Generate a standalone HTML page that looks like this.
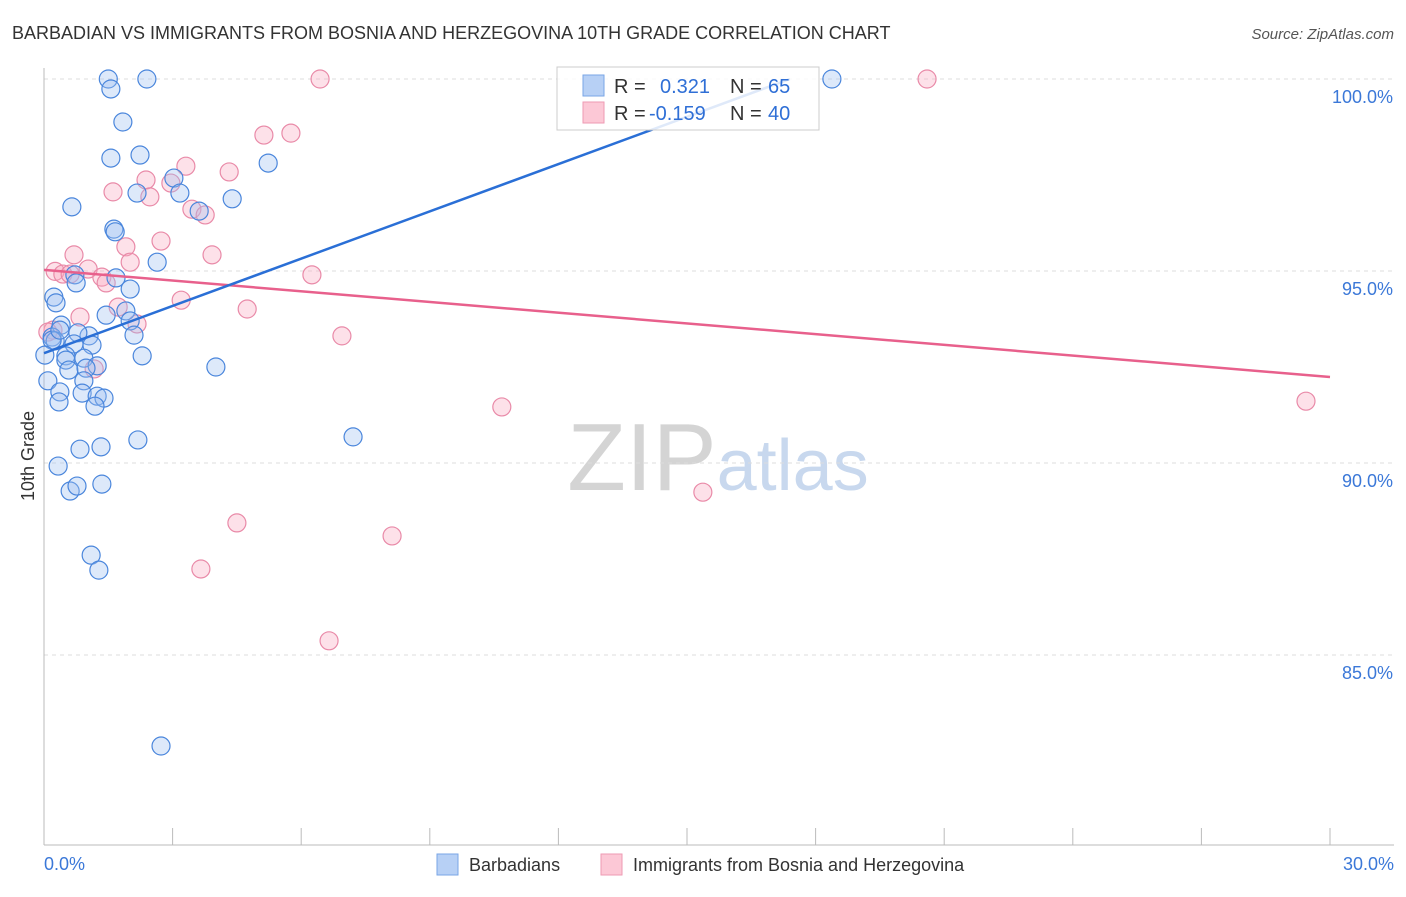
<!DOCTYPE html>
<html><head><meta charset="utf-8">
<style>
body{margin:0;background:#fff;font-family:"Liberation Sans",sans-serif;}
svg text{font-family:"Liberation Sans",sans-serif;}
</style></head>
<body>
<svg id="chart" width="1406" height="892" viewBox="0 0 1406 892">
<text x="12" y="39" font-size="18" fill="#333">BARBADIAN VS IMMIGRANTS FROM BOSNIA AND HERZEGOVINA 10TH GRADE CORRELATION CHART</text>
<text x="1394" y="39" font-size="15" fill="#555" text-anchor="end" font-style="italic">Source: ZipAtlas.com</text>
<text x="718" y="490" font-size="96" text-anchor="middle" fill="#ddd" font-family="Liberation Serif"><tspan fill="#d4d4d4">ZIP</tspan><tspan fill="#c8d8ee" font-family="Liberation Sans" font-size="72">atlas</tspan></text>
<g id="grid"></g>
<g id="axes"></g>
<g id="points"></g>
<g id="trends"></g>
<text transform="translate(34,456) rotate(-90)" font-size="18" fill="#333" text-anchor="middle">10th Grade</text>
<g>
<rect x="557" y="67" width="262" height="63" fill="#fff" fill-opacity="0.85" stroke="#ccc"/>
<rect x="583" y="75" width="21" height="21" fill="#b7d0f5" stroke="#7aa6e6"/>
<rect x="583" y="102" width="21" height="21" fill="#fcc8d6" stroke="#ee9ab3"/>
<text x="614" y="93" font-size="20" fill="#333">R =</text><text x="660" y="93" font-size="20" fill="#2f6fd6">0.321</text>
<text x="730" y="93" font-size="20" fill="#333">N =</text><text x="768" y="93" font-size="20" fill="#2f6fd6">65</text>
<text x="614" y="120" font-size="20" fill="#333">R =</text><text x="649" y="120" font-size="20" fill="#2f6fd6">-0.159</text>
<text x="730" y="120" font-size="20" fill="#333">N =</text><text x="768" y="120" font-size="20" fill="#2f6fd6">40</text>
</g>
<g>
<rect x="437" y="854" width="21" height="21" fill="#b7d0f5" stroke="#7aa6e6"/>
<text x="469" y="871" font-size="18" fill="#333">Barbadians</text>
<rect x="601" y="854" width="21" height="21" fill="#fcc8d6" stroke="#ee9ab3"/>
<text x="633" y="871" font-size="18" fill="#333">Immigrants from Bosnia and Herzegovina</text>
</g>
</svg>
<script>
const xTicks=[0,3,6,9,12,15,18,21,24,27,30];
const yTicks=[85,90,95,100];
const yTickLabels=["85.0%","90.0%","95.0%","100.0%"];
const xEndLabels=["0.0%","30.0%"];
const blueX=[1.50,2.40,1.56,18.38,1.84,1.56,2.24,5.23,3.03,2.17,3.17,4.39,0.65,3.62,1.63,1.66,2.64,0.72,0.75,1.68,2.01,0.23,0.28,1.45,1.91,2.01,0.40,2.10,0.19,1.05,0.26,0.79,0.70,1.12,2.29,0.51,0.51,0.93,1.24,0.58,0.98,4.01,0.09,0.93,0.37,0.89,1.24,1.40,0.35,1.19,7.21,2.19,0.84,1.33,0.33,0.61,0.77,1.35,1.10,1.28,2.73,0.19,0.37,0.02];
const blueY=[100,100,99.74,100,98.88,97.94,98.02,97.81,97.42,97.03,97.03,96.88,96.67,96.56,96.09,96.02,95.23,94.90,94.69,94.82,94.53,94.32,94.17,93.85,93.96,93.70,93.59,93.33,93.28,93.31,93.18,93.39,93.10,93.07,92.79,92.79,92.68,92.73,92.53,92.42,92.47,92.50,92.14,92.14,91.85,91.82,91.74,91.69,91.59,91.48,90.68,90.60,90.36,90.42,89.92,89.27,89.40,89.45,87.60,87.21,82.63,93.20,93.46,92.81];
const pinkX=[6.44,20.60,5.13,5.76,3.31,4.32,1.61,2.38,2.96,2.47,3.45,3.76,0.70,1.91,2.73,3.92,2.01,0.26,0.44,1.03,0.61,1.35,1.45,6.25,3.20,1.73,4.74,0.84,2.17,0.21,6.95,1.17,10.68,29.44,15.37,4.50,8.12,3.66,6.65,0.09];
const pinkY=[100,100,98.54,98.59,97.73,97.58,97.06,97.37,97.29,96.93,96.61,96.46,95.42,95.63,95.78,95.42,95.23,94.99,94.92,95.05,94.92,94.84,94.69,94.90,94.24,94.06,94.01,93.80,93.62,93.46,93.31,92.45,91.46,91.61,89.24,88.44,88.10,87.24,85.37,93.41];
const blueTrend=[[0,92.86],[17.4,100]];
const pinkTrend=[[0,95.03],[30,92.24]];
const NS="http://www.w3.org/2000/svg";
const X=v=>44+v/30*1286;
const Y=v=>79+(100-v)*38.4;
function mk(tag,attrs,parent){const e=document.createElementNS(NS,tag);for(const k in attrs)e.setAttribute(k,attrs[k]);parent.appendChild(e);return e;}
const grid=document.getElementById('grid'),axes=document.getElementById('axes'),pts=document.getElementById('points'),tr=document.getElementById('trends');
yTicks.forEach((t,i)=>{
 const l=mk('line',{x1:44,x2:1394,y1:Y(t),y2:Y(t),stroke:'#ddd','stroke-dasharray':'4,4'},grid);
 
 
 const tx=mk('text',{x:1393,y:Y(t)+24,'font-size':18,fill:'#3b78d8','text-anchor':'end'},axes);
 tx.textContent=yTickLabels[i];
 
 
});
const ya=mk('line',{x1:44,x2:44,y1:68,y2:845,stroke:'#bbb'},axes);


const xa=mk('line',{x1:44,x2:1394,y1:845,y2:845,stroke:'#bbb'},axes);


xTicks.forEach(t=>{
 const l=mk('line',{x1:X(t),x2:X(t),y1:828,y2:845,stroke:'#bbb'},axes);
 
 
});
[[0,'start'],[30,'end']].forEach((p,i)=>{
 const tx=mk('text',{x:i?1394:44,y:870,'font-size':18,fill:'#3b78d8','text-anchor':p[1]},axes);
 tx.textContent=xEndLabels[i];
 
 
});
function drawPts(xs,ys,fill,stroke,name){
 xs.forEach((v,i)=>{
  const c=mk('circle',{cx:X(v),cy:Y(ys[i]),r:9,fill:fill,'fill-opacity':0.35,stroke:stroke,'stroke-width':1.2},pts);
  
  
 });
}
drawPts(pinkX,pinkY,'#f9a8c0','#e98aa8','point-bosnia');
drawPts(blueX,blueY,'#9ec0f0','#4a86dc','point-barbadian');
function drawTrend(d,col,name){
 const l=mk('line',{x1:X(d[0][0]),y1:Y(d[0][1]),x2:X(d[1][0]),y2:Y(d[1][1]),stroke:col,'stroke-width':2.5},tr);
 
 
}
drawTrend(pinkTrend,'#e8608c','trend-bosnia');
drawTrend(blueTrend,'#2a6fd6','trend-barbadians');
</script>
</body></html>
